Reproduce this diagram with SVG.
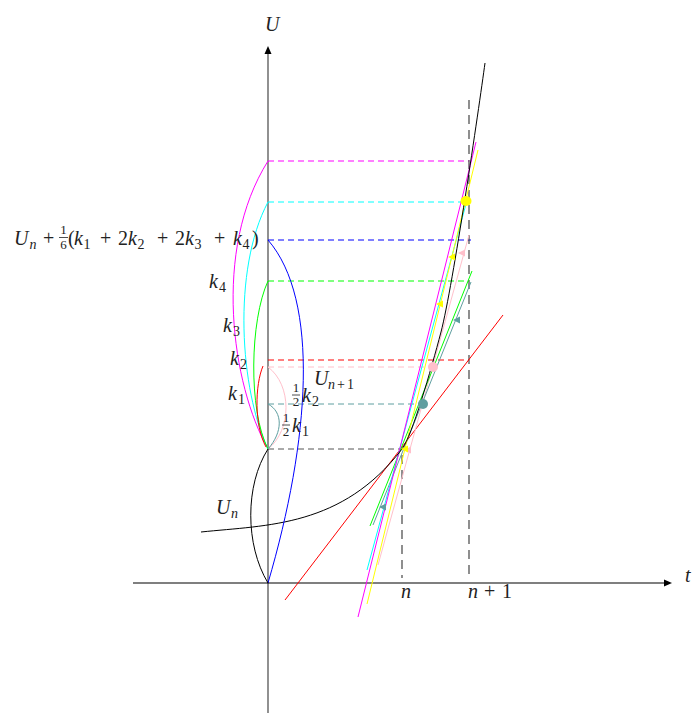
<svg xmlns="http://www.w3.org/2000/svg" width="693" height="713" viewBox="0 0 693 713">
<style>
text{font-family:"Liberation Serif","DejaVu Serif",serif;font-size:20px;fill:#222}
.i{font-style:italic}
.s{font-size:14px}
.f{font-size:13px}
.dh{stroke-width:1;stroke-dasharray:6 4;fill:none}
.dv{stroke:#333;stroke-width:1.1;stroke-dasharray:9 6;fill:none}
.sl{stroke-width:1;fill:none}
.cv{stroke-width:1;fill:none}
</style>
<defs>
<path id="tri" d="M-4,0 L3,-3.5 L3,3.5 Z"/>
</defs>
<rect width="693" height="713" fill="#fff"/>
<g id="axes">
<line x1="268" y1="713" x2="268" y2="52" stroke="#555" stroke-width="1.3"/>
<path d="M268,46 L264.5,54 L271.5,54 Z" fill="#000"/>
<line x1="133" y1="583" x2="666" y2="583" stroke="#000" stroke-width="1.2"/>
<path d="M672,583 L664,579.5 L664,586.5 Z" fill="#000"/>
<text class="i" x="265" y="31">U</text>
<text class="i" x="685" y="582">t</text>
<text class="i" x="401" y="598">n</text>
<text y="598"><tspan class="i" x="468">n</tspan><tspan x="484">+</tspan><tspan x="502">1</tspan></text>
</g>
<g id="guides">
<line class="dh" x1="268" y1="449" x2="400" y2="449" stroke="#555"/>
<line class="dh" x1="268" y1="404" x2="423" y2="404" stroke="#5F9EA0"/>
<line class="dh" x1="268" y1="367" x2="433" y2="367" stroke="#FFC0CB"/>
<line class="dh" x1="268" y1="360" x2="469" y2="360" stroke="#FF0000"/>
<line class="dh" x1="268" y1="281" x2="469" y2="281" stroke="#00FF00"/>
<line class="dh" x1="268" y1="240" x2="471" y2="240" stroke="#0000FF"/>
<line class="dh" x1="268" y1="202" x2="463" y2="202" stroke="#00FFFF"/>
<line class="dh" x1="268" y1="161" x2="469" y2="161" stroke="#FF00FF"/>
<line class="dv" x1="402" y1="455" x2="402" y2="578"/>
<line class="dv" x1="469" y1="100" x2="469" y2="578"/>
</g>
<g id="connectors">
<line class="sl" x1="285" y1="600" x2="503" y2="315" stroke="#FF0000"/>
<line class="sl" x1="378" y1="565" x2="469" y2="235" stroke="#FFC0CB"/>
<line class="sl" x1="373" y1="525" x2="471" y2="282" stroke="#5F9EA0"/>
<line class="sl" x1="370" y1="526" x2="472" y2="271" stroke="#00FF00"/>
<line class="sl" x1="367" y1="570" x2="466" y2="204" stroke="#00FFFF"/>
<line class="sl" x1="367" y1="604" x2="478" y2="150" stroke="#FFFF00"/>
<line class="sl" x1="358" y1="617" x2="476" y2="142" stroke="#FF00FF"/>
<path class="cv" d="M201,532 C268,525 342,527 402,449 C412,436 431,370 441,332 C453,286 479,107 485,63" stroke="#000"/>
<path class="cv" d="M268,449 C232,385 212,250 268,161" stroke="#FF00FF"/>
<path class="cv" d="M268,449 C240,390 232,270 268,202" stroke="#00FFFF"/>
<path class="cv" d="M268,449 C248,410 250,320 268,281" stroke="#00FF00"/>
<path class="cv" d="M263,366 C255,385 254,425 266,447" stroke="#FF0000"/>
<path class="cv" d="M268,367 C292,385 292,430 268,449" stroke="#FFC0CB"/>
<path class="cv" d="M268,404 C283,412 283,432 268,449" stroke="#5F9EA0"/>
<path class="cv" d="M268,583 C310,440 320,300 268,240" stroke="#0000FF"/>
<path class="cv" d="M268,449 C245,485 245,545 268,583" stroke="#000"/>
<use href="#tri" x="462" y="253" fill="#FFC0CB"/>
<use href="#tri" x="408" y="450" fill="#FFC0CB"/>
<use href="#tri" x="452" y="257" fill="#FFFF00"/>
<use href="#tri" x="440" y="304" fill="#FFFF00"/>
<use href="#tri" x="405" y="449" fill="#FFFF00"/>
<use href="#tri" x="457" y="320" fill="#5F9EA0"/>
<use href="#tri" x="383" y="507" fill="#5F9EA0"/>
</g>
<g id="points">
<ellipse cx="466" cy="201" rx="5.5" ry="5" fill="#FFFF00"/>
<circle cx="433" cy="367" r="5" fill="#FFC0CB"/>
<circle cx="423" cy="404" r="5" fill="#5F9EA0"/>
</g>
<g id="labels">
<text y="245"><tspan class="i" x="14">U</tspan><tspan class="s i" x="29.5" dy="4">n</tspan><tspan x="43" dy="-4">+</tspan></text>
<text class="f" x="63.5" y="234" text-anchor="middle">1</text>
<line x1="59" y1="237.5" x2="68" y2="237.5" stroke="#222" stroke-width="0.8"/>
<text class="f" x="63.5" y="249" text-anchor="middle">6</text>
<text y="245"><tspan x="68">(</tspan><tspan class="i" x="74">k</tspan><tspan class="s" x="83.5" dy="4">1</tspan><tspan x="100" dy="-4">+</tspan><tspan x="118">2</tspan><tspan class="i" x="128">k</tspan><tspan class="s" x="137.5" dy="4">2</tspan><tspan x="157" dy="-4">+</tspan><tspan x="175">2</tspan><tspan class="i" x="185">k</tspan><tspan class="s" x="194.5" dy="4">3</tspan><tspan x="214" dy="-4">+</tspan><tspan class="i" x="233">k</tspan><tspan class="s" x="242.5" dy="4">4</tspan><tspan x="252" dy="-4">)</tspan></text>
<text y="288"><tspan class="i" x="209">k</tspan><tspan class="s" x="219" dy="4">4</tspan></text>
<text y="332"><tspan class="i" x="223">k</tspan><tspan class="s" x="233" dy="4">3</tspan></text>
<text y="365"><tspan class="i" x="230">k</tspan><tspan class="s" x="240" dy="4">2</tspan></text>
<text y="400"><tspan class="i" x="228">k</tspan><tspan class="s" x="238" dy="4">1</tspan></text>
<text class="f" x="296" y="392" text-anchor="middle">1</text>
<line x1="292" y1="395" x2="300" y2="395" stroke="#222" stroke-width="0.8"/>
<text class="f" x="296" y="406" text-anchor="middle">2</text>
<text y="402"><tspan class="i" x="302">k</tspan><tspan class="s" x="312" dy="4">2</tspan></text>
<text class="f" x="286" y="422" text-anchor="middle">1</text>
<line x1="282" y1="425" x2="290" y2="425" stroke="#222" stroke-width="0.8"/>
<text class="f" x="286" y="436" text-anchor="middle">2</text>
<text y="432"><tspan class="i" x="292">k</tspan><tspan class="s" x="302" dy="4">1</tspan></text>
<text y="385"><tspan class="i" x="314">U</tspan><tspan class="s i" x="328" dy="4">n</tspan><tspan class="s" x="337">+</tspan><tspan class="s" x="347">1</tspan></text>
<text y="514"><tspan class="i" x="216">U</tspan><tspan class="s i" x="231" dy="4">n</tspan></text>
</g>
</svg>
